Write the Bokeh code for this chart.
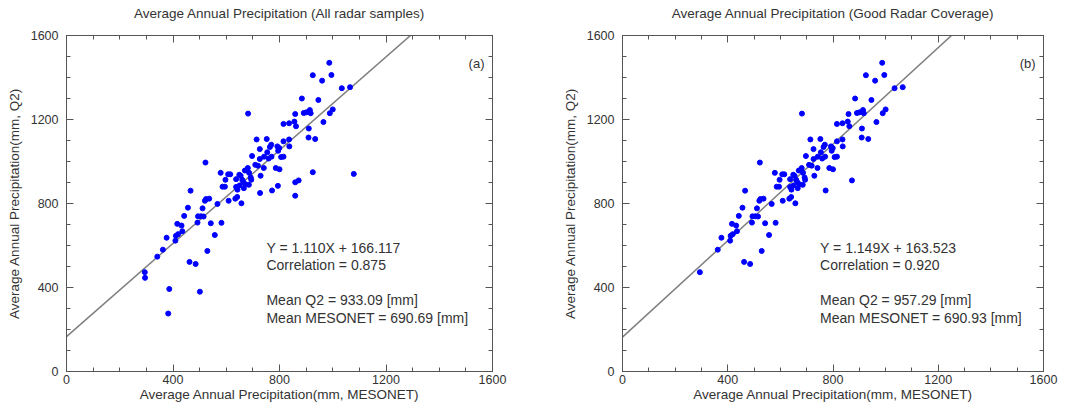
from bokeh.plotting import figure
from bokeh.layouts import row
from bokeh.models import Range1d, LinearAxis, SingleIntervalTicker, Label, CustomLabelingPolicy
from bokeh.embed import file_html
from bokeh.resources import INLINE

# Panel (a): all radar samples
a_x = [987, 925, 995, 960, 1034, 1065, 884, 946, 682, 859, 891, 900, 914, 917, 1000, 989,
       965, 856, 862, 815, 836, 910, 909, 934, 714, 752, 815, 836, 837, 769, 764, 726, 754,
       792, 799, 795, 742, 697, 726, 759, 770, 806, 815, 709, 719, 741, 681, 786, 800, 522,
       579, 607, 615, 597, 586, 595, 637, 649, 654, 670, 686, 692, 694, 729, 727, 772, 794,
       859, 872, 925, 859, 1079, 642, 637, 650, 634, 641, 657, 609, 567, 520, 524, 536, 511,
       456, 466, 442, 494, 505, 515, 542, 582, 492, 416, 432, 435, 419, 411, 409, 376, 557,
       529, 362, 341, 462, 485, 294, 295, 386, 501, 382, 660, 664, 672, 685, 666]
a_y = [1470, 1411, 1412, 1385, 1349, 1354, 1300, 1293, 1228, 1226, 1231, 1234, 1245, 1230,
       1248, 1230, 1188, 1190, 1168, 1179, 1182, 1157, 1114, 1107, 1105, 1107, 1096, 1105,
       1072, 1080, 1069, 1059, 1044, 1072, 1064, 1051, 1023, 1026, 1012, 1014, 1023, 1021,
       1023, 984, 980, 969, 969, 969, 963, 995, 946, 939, 939, 913, 880, 880, 916, 937, 932,
       957, 946, 924, 913, 932, 850, 862, 884, 901, 910, 949, 837, 941, 866, 879, 886, 823,
       831, 801, 813, 798, 813, 821, 823, 777, 780, 861, 741, 739, 739, 738, 706, 708, 709,
       703, 695, 668, 654, 646, 623, 637, 650, 574, 580, 547, 522, 512, 473, 446, 393, 380,
       276, 913, 902, 892, 889, 873]

# Panel (b): good radar coverage
b_x = [987, 925, 995, 960, 1034, 1065, 884, 946, 682, 859, 891, 900, 914, 917, 1000, 989,
       965, 856, 862, 815, 836, 910, 909, 934, 714, 752, 815, 836, 837, 769, 764, 726, 754,
       792, 799, 795, 742, 697, 726, 759, 770, 806, 815, 709, 719, 741, 681, 786, 800, 522,
       579, 607, 615, 597, 586, 595, 637, 649, 654, 670, 686, 692, 694, 729, 772,
       872, 642, 637, 650, 634, 641, 657, 609, 567, 520, 524, 536, 511,
       456, 466, 442, 494, 505, 515, 542, 582, 492, 416, 432, 435, 419, 411, 409, 376, 557,
       529, 362, 462, 485, 294, 660, 664, 672, 685, 666]
b_y = [1470, 1411, 1412, 1385, 1349, 1354, 1300, 1293, 1228, 1226, 1231, 1234, 1245, 1230,
       1248, 1230, 1188, 1190, 1168, 1179, 1182, 1157, 1114, 1107, 1105, 1107, 1096, 1105,
       1072, 1080, 1069, 1059, 1044, 1072, 1064, 1051, 1023, 1026, 1012, 1014, 1023, 1021,
       1023, 984, 980, 969, 969, 969, 963, 995, 946, 939, 939, 913, 880, 880, 916, 937, 932,
       957, 946, 924, 913, 932, 862,
       910, 866, 879, 886, 823, 831, 801, 813, 798, 813, 821, 823, 777,
       780, 861, 741, 739, 739, 738, 706, 708, 709, 703, 695, 668, 654, 646, 623, 637, 650,
       574, 580, 522, 512, 473, 913, 902, 892, 889, 873]

fit_x = [0, 1600]
a_slope, a_icpt = 1.110, 166.117
b_slope, b_icpt = 1.149, 163.523

a_title = "Average Annual Precipitation (All radar samples)"
b_title = "Average Annual Precipitation (Good Radar Coverage)"
x_label = "Average Annual Precipitation(mm, MESONET)"
y_label = "Average Annual Precipitation(mm, Q2)"
a_text = ["Y = 1.110X + 166.117", "Correlation = 0.875", "Mean Q2 = 933.09 [mm]", "Mean MESONET = 690.69 [mm]"]
b_text = ["Y = 1.149X + 163.523", "Correlation = 0.920", "Mean Q2 = 957.29 [mm]", "Mean MESONET = 690.93 [mm]"]

FONT = "Liberation Sans"
AXC = "#555555"
TXC = "#333333"


def style_axis(ax, show_labels=True):
    ax.ticker = SingleIntervalTicker(interval=400, num_minor_ticks=4)
    ax.major_tick_in = 7
    ax.major_tick_out = 0
    ax.minor_tick_in = 4
    ax.minor_tick_out = 0
    ax.axis_line_color = AXC
    ax.major_tick_line_color = AXC
    ax.minor_tick_line_color = AXC
    ax.major_label_text_font = FONT
    ax.major_label_text_color = TXC
    ax.major_label_text_font_size = "12.5px"
    ax.axis_label_text_font = FONT
    ax.axis_label_text_color = TXC
    ax.axis_label_text_font_size = "13.5px"
    ax.axis_label_text_font_style = "normal"
    if not show_labels:
        ax.major_label_policy = CustomLabelingPolicy(code="return new Set()")
        ax.major_label_standoff = 0


def panel(title, xs, ys, slope, icpt, texts, tag, width, left, right):
    p = figure(width=width, height=404, output_backend="svg", toolbar_location=None,
               x_range=Range1d(0, 1600), y_range=Range1d(0, 1600),
               min_border_left=left, min_border_right=right,
               min_border_top=32, min_border_bottom=33, x_axis_label=x_label,
               y_axis_label=y_label)
    p.title.text = title
    p.title.align = "center"
    p.title.text_font = FONT
    p.title.text_font_size = "13.5px"
    p.title.text_font_style = "normal"
    p.title.text_color = TXC
    p.title.standoff = 6
    p.grid.visible = False
    p.outline_line_color = AXC
    for ax in p.xaxis:
        style_axis(ax)
        ax.major_label_standoff = 3
        ax.axis_label_standoff = 0
    for ax in p.yaxis:
        style_axis(ax)
        ax.major_label_standoff = 8
        ax.axis_label_standoff = 6
    top = LinearAxis()
    style_axis(top, False)
    p.add_layout(top, "above")
    rt = LinearAxis()
    style_axis(rt, False)
    p.add_layout(rt, "right")

    fy = [slope * v + icpt for v in fit_x]
    p.line(fit_x, fy, line_color="#7f7f7f", line_width=1.5)
    p.scatter(xs, ys, size=5, fill_color="#0000ff", line_color="#0000ff")

    ypos = [590, 505, 340, 255]
    for t, yv in zip(texts, ypos):
        p.add_layout(Label(x=751, y=yv, text=t, text_font=FONT, text_font_size="14px",
                           text_color=TXC, text_baseline="middle"))
    p.add_layout(Label(x=1570, y=1467, text=tag, text_font=FONT, text_font_size="13px",
                       text_color=TXC, text_align="right", text_baseline="middle"))
    return p


pa = panel(a_title, a_x, a_y, a_slope, a_icpt, a_text, "(a)", 548, 66, 56)
pb = panel(b_title, b_x, b_y, b_slope, b_icpt, b_text, "(b)", 530, 74, 35)

layout = row(pa, pb)
open("out.html", "w").write(file_html(layout, INLINE))
